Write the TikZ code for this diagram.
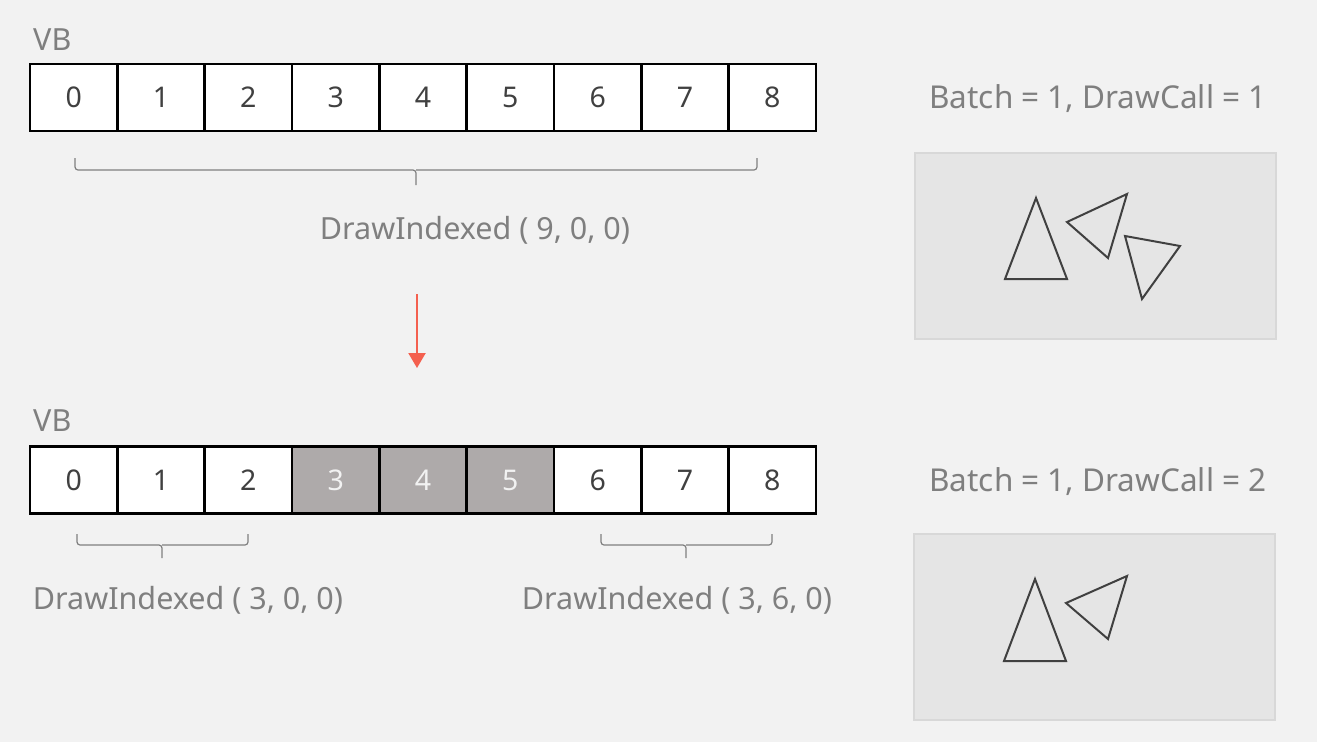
\documentclass[tikz,border=0pt]{standalone}
\usepackage{fontspec}
\setmainfont{Noto Sans}
\usetikzlibrary{arrows.meta}
\definecolor{bg}{HTML}{F2F2F2}
\definecolor{labelgray}{HTML}{7F7F7F}
\definecolor{celltext}{HTML}{404040}
\definecolor{cellgray}{HTML}{AEAAAA}
\definecolor{panelfill}{HTML}{E5E5E5}
\definecolor{panelline}{HTML}{D8D8D8}
\definecolor{tri}{HTML}{404040}
\definecolor{arrowred}{HTML}{F4604F}
\tikzset{
  cellbox/.style={draw=black, line width=2.5pt, minimum width=87.33pt, minimum height=67pt,
    inner sep=0pt, fill=white, text=celltext, font=\fontsize{28.5}{32}\selectfont},
  graycell/.style={cellbox, fill=cellgray, text=bg},
  lbl/.style={text=labelgray, inner sep=0pt, font=\fontsize{30.5}{36}\selectfont},
  bigl/.style={lbl, font=\fontsize{31.5}{36}\selectfont},
  bracepath/.style={draw=labelgray, line width=1.2pt, rounded corners=3pt},
  panel/.style={draw=panelline, fill=panelfill, line width=2pt},
  triangle/.style={draw=tri, line width=2pt, line join=miter},
  redarrow/.style={draw=arrowred, line width=2.2pt, -{Triangle[width=17pt,length=15pt]}}
}
\begin{document}
\begin{tikzpicture}[x=1pt,y=-1pt]
\fill[bg] (0,0) rectangle (1317,742);
\useasboundingbox (0,0) rectangle (1317,742);

% top row
\node[lbl, anchor=west] (vb1) at (33,40) {VB};
\foreach \i in {0,...,8} {
  \node[cellbox] (a\i) at ({73.67+87.33*\i},97.5) {\i};
}
% top brace
\coordinate (tbl) at (75,158);
\coordinate (tbr) at (757,158);
\coordinate (tbm) at (416,170);
\coordinate (tbt) at (416,185);
\draw[bracepath] (tbl) |- (tbm) -- (tbt);
\draw[bracepath] (tbr) |- (tbm);
\node[lbl] (d1) at (475,230) {DrawIndexed ( 9, 0, 0)};

% arrow
\coordinate (arrs) at (417,294);
\coordinate (arre) at (417,368);
\draw[redarrow] (arrs) -- (arre);

% bottom row
\node[lbl, anchor=west] (vb2) at (33,421) {VB};
\foreach \i in {0,1,2,6,7,8} {
  \node[cellbox] (b\i) at ({73.67+87.33*\i},480) {\i};
}
\foreach \i in {3,4,5} {
  \node[graycell] (b\i) at ({73.67+87.33*\i},480) {\i};
}
% bottom braces
\coordinate (lbl) at (77,534);
\coordinate (lbr) at (248,534);
\coordinate (lbm) at (162,545);
\coordinate (lbt) at (162,558);
\draw[bracepath] (lbl) |- (lbm) -- (lbt);
\draw[bracepath] (lbr) |- (lbm);
\node[lbl] (d2) at (188,600) {DrawIndexed ( 3, 0, 0)};

\coordinate (rbl) at (601,534);
\coordinate (rbr) at (772,534);
\coordinate (rbm) at (686,545);
\coordinate (rbt) at (686,558);
\draw[bracepath] (rbl) |- (rbm) -- (rbt);
\draw[bracepath] (rbr) |- (rbm);
\node[lbl] (d3) at (677,600) {DrawIndexed ( 3, 6, 0)};

% right panels
\node[bigl] (bt1) at (1098,99) {Batch = 1, DrawCall = 1};
\draw[panel] (915,153) rectangle (1276,339);
\draw[triangle] (1036,198) -- (1005,279) -- (1067,279) -- cycle;
\draw[triangle] (1067,222) -- (1127,194) -- (1108,258) -- cycle;
\draw[triangle] (1125,236) -- (1180,246) -- (1142,299) -- cycle;

\node[bigl] (bt2) at (1098,482) {Batch = 1, DrawCall = 2};
\draw[panel] (914,534) rectangle (1275,720);
\draw[triangle] (1035,579) -- (1004,661) -- (1066,661) -- cycle;
\draw[triangle] (1066,603) -- (1127,576) -- (1108,639) -- cycle;
\end{tikzpicture}
\end{document}
